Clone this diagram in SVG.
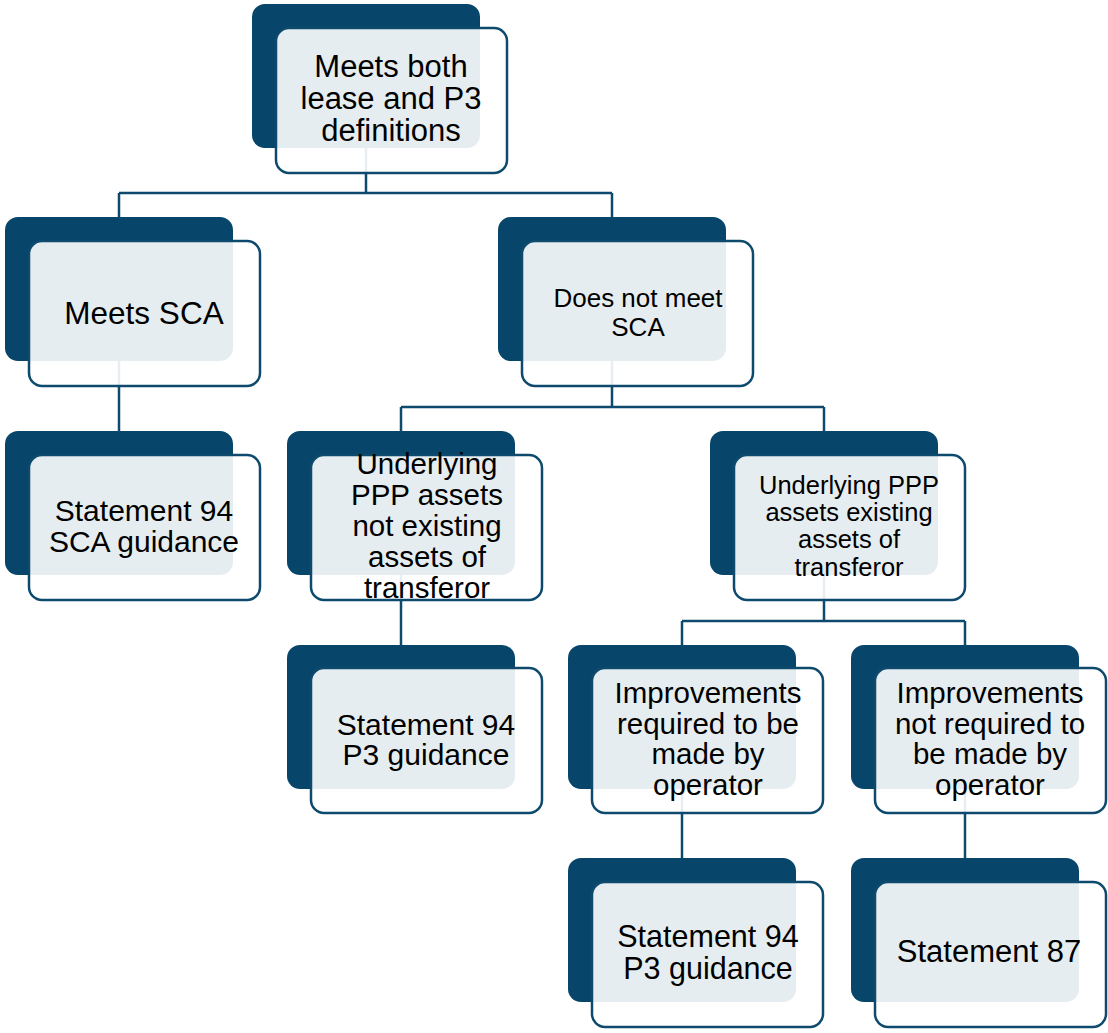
<svg xmlns="http://www.w3.org/2000/svg" width="1108" height="1033" viewBox="0 0 1108 1033">
<style>
.bg{fill:#07466a}
.fr{fill:#ffffff;fill-opacity:0.9;stroke:#0d4a6d;stroke-width:2.5}
.ln{fill:none;stroke:#0d4a6d;stroke-width:2.5}
text{font-family:"Liberation Sans",Arial,sans-serif;fill:#000;text-anchor:middle}
</style>
<rect width="1108" height="1033" fill="#ffffff"/>
<g id="connectors">
<path class="ln" d="M366,76 V193 M119,193 H612 M119,193 V217 M612,193 V217"/>
<path class="ln" d="M119,289 V431"/>
<path class="ln" d="M612,289 V407 M401,407 H824 M401,407 V431 M824,407 V431"/>
<path class="ln" d="M401,503 V645"/>
<path class="ln" d="M824,503 V621 M682,621 H965 M682,621 V645 M965,621 V645"/>
<path class="ln" d="M682,717 V858"/>
<path class="ln" d="M965,717 V858"/>
</g>
<g id="n1">
<rect class="bg" x="252" y="4" width="228" height="144" rx="13"/>
<rect class="fr" x="276" y="28" width="231" height="145" rx="13"/>
<text font-size="31"><tspan x="391" y="77">Meets both</tspan><tspan x="391" y="109">lease and P3</tspan><tspan x="391" y="141">definitions</tspan></text>
</g>
<g id="n2">
<rect class="bg" x="5" y="217" width="228" height="144" rx="13"/>
<rect class="fr" x="29" y="241" width="231" height="145" rx="13"/>
<text font-size="31.5" x="144" y="324">Meets SCA</text>
</g>
<g id="n3">
<rect class="bg" x="498" y="217" width="228" height="144" rx="13"/>
<rect class="fr" x="522" y="241" width="231" height="145" rx="13"/>
<text font-size="26"><tspan x="638" y="307">Does not meet</tspan><tspan x="638" y="336">SCA</tspan></text>
</g>
<g id="n4">
<rect class="bg" x="5" y="431" width="228" height="144" rx="13"/>
<rect class="fr" x="29" y="455" width="231" height="145" rx="13"/>
<text font-size="30"><tspan x="144" y="521">Statement 94</tspan><tspan x="144" y="552">SCA guidance</tspan></text>
</g>
<g id="n5">
<rect class="bg" x="287" y="431" width="228" height="144" rx="13"/>
<rect class="fr" x="311" y="455" width="231" height="145" rx="13"/>
<text font-size="29.5"><tspan x="427" y="474">Underlying</tspan><tspan x="427" y="505">PPP assets</tspan><tspan x="427" y="536">not existing</tspan><tspan x="427" y="567">assets of</tspan><tspan x="427" y="598">transferor</tspan></text>
</g>
<g id="n6">
<rect class="bg" x="710" y="431" width="228" height="144" rx="13"/>
<rect class="fr" x="734" y="455" width="231" height="145" rx="13"/>
<text font-size="25.5"><tspan x="849" y="494">Underlying PPP</tspan><tspan x="849" y="521">assets existing</tspan><tspan x="849" y="548">assets of</tspan><tspan x="849" y="576">transferor</tspan></text>
</g>
<g id="n7">
<rect class="bg" x="287" y="645" width="228" height="144" rx="13"/>
<rect class="fr" x="311" y="668" width="231" height="145" rx="13"/>
<text font-size="30"><tspan x="426" y="735">Statement 94</tspan><tspan x="426" y="765">P3 guidance</tspan></text>
</g>
<g id="n8">
<rect class="bg" x="568" y="645" width="228" height="144" rx="13"/>
<rect class="fr" x="592" y="668" width="231" height="145" rx="13"/>
<text font-size="29.5"><tspan x="708" y="703">Improvements</tspan><tspan x="708" y="734">required to be</tspan><tspan x="708" y="764">made by</tspan><tspan x="708" y="795">operator</tspan></text>
</g>
<g id="n9">
<rect class="bg" x="851" y="645" width="228" height="144" rx="13"/>
<rect class="fr" x="875" y="668" width="231" height="145" rx="13"/>
<text font-size="29.5"><tspan x="990" y="703">Improvements</tspan><tspan x="990" y="734">not required to</tspan><tspan x="990" y="764">be made by</tspan><tspan x="990" y="795">operator</tspan></text>
</g>
<g id="n10">
<rect class="bg" x="568" y="858" width="228" height="144" rx="13"/>
<rect class="fr" x="592" y="882" width="231" height="145" rx="13"/>
<text font-size="30.5"><tspan x="708" y="947">Statement 94</tspan><tspan x="708" y="979">P3 guidance</tspan></text>
</g>
<g id="n11">
<rect class="bg" x="851" y="858" width="228" height="144" rx="13"/>
<rect class="fr" x="875" y="882" width="231" height="145" rx="13"/>
<text font-size="31" x="989" y="962">Statement 87</text>
</g>
</svg>
